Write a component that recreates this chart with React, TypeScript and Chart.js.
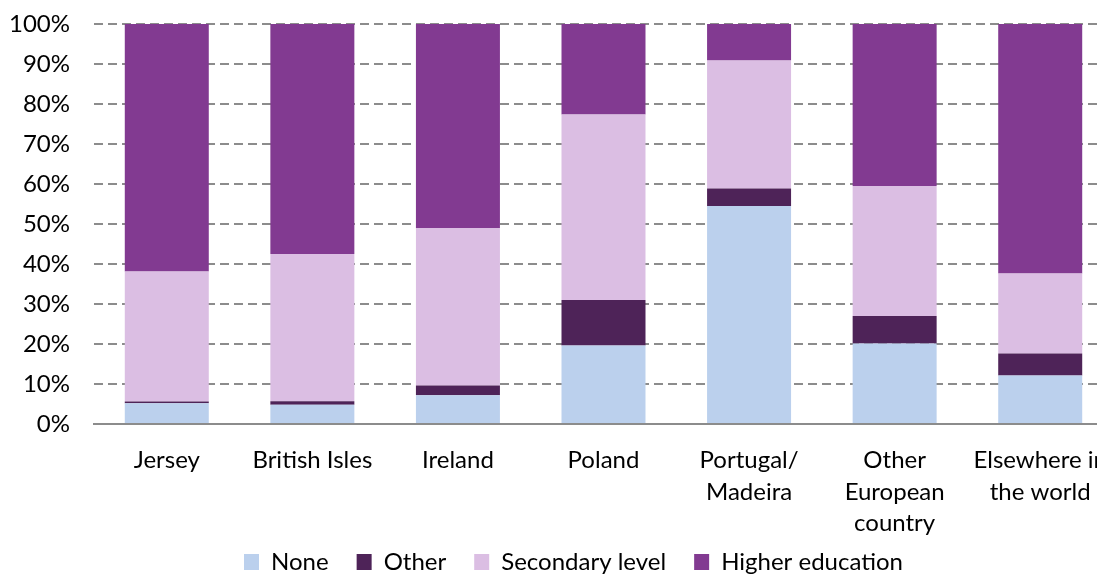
import React, { useEffect, useRef } from "react";
import { Chart, registerables } from "chart.js";

Chart.register(...registerables);

const categories: (string | string[])[] = [
  "Jersey",
  "British Isles",
  "Ireland",
  "Poland",
  ["Portugal/", "Madeira"],
  ["Other", "European", "country"],
  ["Elsewhere in", "the world"],
];

const noneValues = [5.2, 4.8, 7.2, 19.6, 54.5, 20.1, 12.1];
const otherValues = [0.4, 0.9, 2.4, 11.4, 4.4, 6.9, 5.5];
const secondaryValues = [32.5, 36.8, 39.4, 46.4, 32.0, 32.5, 20.0];
const higherValues = [61.9, 57.5, 51.0, 22.6, 9.1, 40.5, 62.4];

const seriesLabels = ["None", "Other", "Secondary level", "Higher education"];
const seriesColors = ["#BBD0ED", "#4E2358", "#DBBEE3", "#823A91"];

const FONT = "Lato, 'Open Sans', sans-serif";
const LEGEND_SHIFT = 17;

const layoutFix = {
  id: "layoutFix",
  afterLayout(chart: any) {
    const lg = chart.legend;
    if (lg) {
      lg.left += LEGEND_SHIFT;
      lg.right += LEGEND_SHIFT;
    }
    const x = chart.scales.x;
    if (x) x.bottom = chart.height;
  },
};

export default function App() {
  const ref = useRef<HTMLCanvasElement | null>(null);

  useEffect(() => {
    const canvas = ref.current;
    if (!canvas) return;
    const values = [noneValues, otherValues, secondaryValues, higherValues];
    const chart = new Chart(canvas, {
      type: "bar",
      data: {
        labels: categories,
        datasets: values.map((d, i) => ({
          label: seriesLabels[i],
          data: d,
          backgroundColor: seriesColors[i],
          borderWidth: 0,
          barPercentage: 1,
          categoryPercentage: 0.577,
        })),
      },
      plugins: [layoutFix],
      options: {
        responsive: false,
        animation: false,
        devicePixelRatio: 1,
        layout: { padding: { left: 0, top: 24, right: 0, bottom: 0 } },
        plugins: {
          tooltip: { enabled: false },
          legend: {
            position: "bottom",
            labels: {
              color: "#000",
              font: { family: FONT, size: 24 },
              boxWidth: 15,
              boxHeight: 16,
              padding: 28,
            },
          },
        },
        scales: {
          x: {
            stacked: true,
            grid: { display: false, drawTicks: false },
            border: { display: true, color: "#8c8c8c", width: 2 },
            ticks: {
              color: "#000",
              font: { family: FONT, size: 24, lineHeight: 1.3 },
              padding: 21,
              autoSkip: false,
              maxRotation: 0,
              minRotation: 0,
            },
            afterFit: (scale: any) => {
              scale.height = 98;
              scale.paddingLeft = 0;
              scale.paddingRight = 0;
            },
          },
          y: {
            stacked: true,
            min: 0,
            max: 100,
            grid: {
              drawTicks: false,
              color: (ctx: any) =>
                ctx.tick && ctx.tick.value === 0 ? "rgba(0,0,0,0)" : "#8c8c8c",
              lineWidth: 2,
            },
            border: { display: false, dash: [9, 5] },
            ticks: {
              stepSize: 10,
              color: "#000",
              font: { family: FONT, size: 24 },
              padding: 24,
              callback: (v: any) => v + "%",
            },
            afterFit: (scale: any) => {
              scale.width = 94;
              scale.paddingTop = 0;
              scale.paddingBottom = 0;
            },
          },
        },
      },
    });
    return () => chart.destroy();
  }, []);

  return (
    <div
      style={{
        position: "fixed",
        left: 0,
        top: 0,
        width: 1097,
        height: 574,
        overflow: "hidden",
        background: "#fff",
      }}
    >
      <canvas ref={ref} width={1113} height={584} style={{ display: "block" }} />
    </div>
  );
}
